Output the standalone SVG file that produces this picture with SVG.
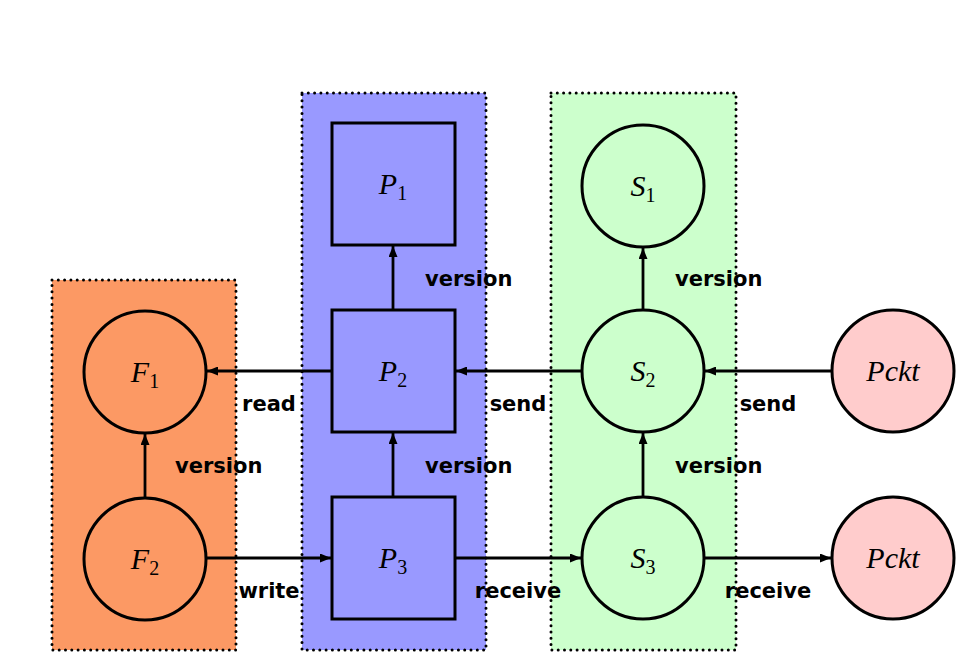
<svg xmlns="http://www.w3.org/2000/svg" width="970" height="671" viewBox="0 0 970 671">
<defs>
<marker id="ah" viewBox="0 0 11 9" refX="11" refY="4.5" markerWidth="11" markerHeight="9" markerUnits="userSpaceOnUse" orient="auto">
<path d="M0,0 L11,4.5 L0,9 z" fill="#000"/>
</marker>
<style>
.grp{stroke:#000;stroke-width:3;stroke-linecap:round;stroke-dasharray:0 6.3}
.node{stroke:#000;stroke-width:3}
.edge{stroke:#000;stroke-width:2.8;fill:none}
.lbl{font-family:"DejaVu Sans",sans-serif;font-weight:bold;font-size:21px;fill:#000}
.math{font-family:"Liberation Serif",serif;font-style:italic;font-size:30px;fill:#000;text-anchor:middle}
.sub{font-style:normal;font-size:20px}
</style>
</defs>
<rect width="970" height="671" fill="#fff"/>
<g id="groups">
<rect x="52" y="280" width="184" height="370" fill="#FC9964" class="grp"/>
<rect x="302" y="93" width="184" height="557" fill="#9999FF" class="grp"/>
<rect x="551" y="93" width="185" height="557" fill="#CCFFCC" class="grp"/>
</g>
<g id="connectors">
<line x1="145" y1="497" x2="145" y2="434" class="edge" marker-end="url(#ah)"/>
<line x1="332" y1="371" x2="207" y2="371" class="edge" marker-end="url(#ah)"/>
<line x1="206" y1="558" x2="331" y2="558" class="edge" marker-end="url(#ah)"/>
<line x1="393" y1="310" x2="393" y2="246" class="edge" marker-end="url(#ah)"/>
<line x1="393" y1="497" x2="393" y2="433" class="edge" marker-end="url(#ah)"/>
<line x1="582" y1="371" x2="456" y2="371" class="edge" marker-end="url(#ah)"/>
<line x1="455" y1="558" x2="581" y2="558" class="edge" marker-end="url(#ah)"/>
<line x1="643" y1="310" x2="643" y2="248" class="edge" marker-end="url(#ah)"/>
<line x1="643" y1="497" x2="643" y2="433" class="edge" marker-end="url(#ah)"/>
<line x1="832" y1="371" x2="705" y2="371" class="edge" marker-end="url(#ah)"/>
<line x1="704" y1="558" x2="831" y2="558" class="edge" marker-end="url(#ah)"/>
<text class="lbl" x="175" y="473">version</text>
<text class="lbl" x="269" y="411" text-anchor="middle">read</text>
<text class="lbl" x="269" y="598" text-anchor="middle">write</text>
<text class="lbl" x="425" y="286">version</text>
<text class="lbl" x="425" y="473">version</text>
<text class="lbl" x="518" y="411" text-anchor="middle">send</text>
<text class="lbl" x="518" y="598" text-anchor="middle">receive</text>
<text class="lbl" x="675" y="286">version</text>
<text class="lbl" x="675" y="473">version</text>
<text class="lbl" x="768" y="411" text-anchor="middle">send</text>
<text class="lbl" x="768" y="598" text-anchor="middle">receive</text>
</g>
<g id="F1"><circle cx="145" cy="372" r="61" fill="#FC9964" class="node"/><text class="math" x="145" y="382">F<tspan class="sub" dy="6">1</tspan></text></g>
<g id="F2"><circle cx="145" cy="559" r="61" fill="#FC9964" class="node"/><text class="math" x="145" y="569">F<tspan class="sub" dy="6">2</tspan></text></g>
<g id="P1"><rect x="332" y="123" width="123" height="122" fill="#9999FF" class="node"/><text class="math" x="393" y="194">P<tspan class="sub" dy="6">1</tspan></text></g>
<g id="P2"><rect x="332" y="310" width="123" height="122" fill="#9999FF" class="node"/><text class="math" x="393" y="381">P<tspan class="sub" dy="6">2</tspan></text></g>
<g id="P3"><rect x="332" y="497" width="123" height="122" fill="#9999FF" class="node"/><text class="math" x="393" y="568">P<tspan class="sub" dy="6">3</tspan></text></g>
<g id="S1"><circle cx="643" cy="186" r="61" fill="#CCFFCC" class="node"/><text class="math" x="643" y="196">S<tspan class="sub" dy="6">1</tspan></text></g>
<g id="S2"><circle cx="643" cy="371" r="61" fill="#CCFFCC" class="node"/><text class="math" x="643" y="381">S<tspan class="sub" dy="6">2</tspan></text></g>
<g id="S3"><circle cx="643" cy="558" r="61" fill="#CCFFCC" class="node"/><text class="math" x="643" y="568">S<tspan class="sub" dy="6">3</tspan></text></g>
<g id="Pckt1"><circle cx="893" cy="371" r="61" fill="#FFCCCC" class="node"/><text class="math" x="893" y="381">Pckt</text></g>
<g id="Pckt2"><circle cx="893" cy="558" r="61" fill="#FFCCCC" class="node"/><text class="math" x="893" y="568">Pckt</text></g>
</svg>
